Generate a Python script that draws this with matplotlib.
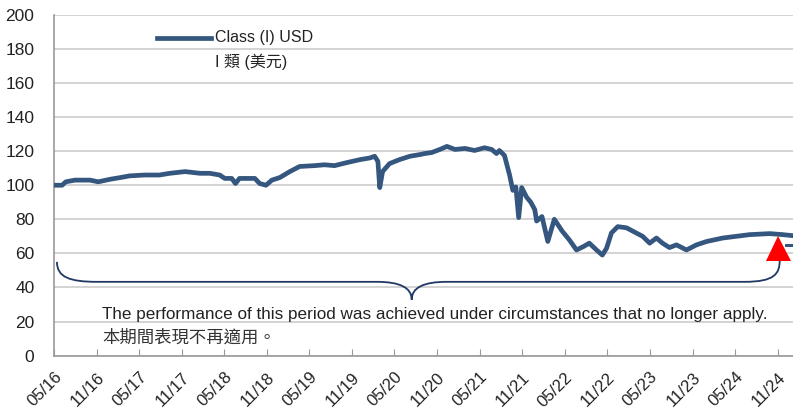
import matplotlib
matplotlib.use("Agg")
import matplotlib.pyplot as plt
import matplotlib.dates as mdates
from matplotlib.path import Path
from matplotlib.patches import PathPatch
import pandas as pd
import numpy as np

dates = ["2016-05-01","2016-06-05","2016-06-21","2016-07-30","2016-10-03","2016-11-07","2016-12-28",
         "2017-02-10","2017-03-22","2017-05-25","2017-07-28","2017-09-10","2017-11-15","2018-01-18",
         "2018-03-01","2018-04-12","2018-05-04","2018-06-03","2018-06-19","2018-07-06","2018-09-10",
         "2018-10-01","2018-10-28","2018-11-22","2018-12-26","2019-02-07","2019-03-21","2019-05-24",
         "2019-07-06","2019-08-18","2019-10-01","2019-12-04","2020-01-16","2020-02-06","2020-02-20",
         "2020-02-28","2020-03-11","2020-04-10","2020-05-22","2020-07-06","2020-08-18","2020-09-08",
         "2020-10-08","2020-11-12","2020-12-12","2021-01-16","2021-02-28","2021-04-10","2021-05-22",
         "2021-06-22","2021-07-13","2021-07-25","2021-08-16","2021-09-07","2021-09-21","2021-10-04",
         "2021-10-16","2021-10-29","2021-11-19","2021-12-07","2021-12-24","2022-01-01","2022-01-24",
         "2022-02-18","2022-03-18","2022-04-21","2022-05-21","2022-06-21","2022-07-21","2022-08-15",
         "2022-09-15","2022-10-10","2022-10-28","2022-11-18","2022-12-15","2023-01-22","2023-03-04",
         "2023-04-01","2023-05-01","2023-05-30","2023-06-25","2023-07-25","2023-08-24","2023-10-06",
         "2023-11-18","2024-01-01","2024-03-09","2024-07-03","2024-09-28","2024-11-22","2025-01-04"]
values = [100, 100, 102, 103, 103, 102, 103.5,
          104.5, 105.5, 106, 106, 107, 108, 107,
          107, 106, 104, 104, 101, 104, 104,
          101, 100, 103, 104.5, 108, 111, 111.5,
          112, 111.5, 113, 115, 116, 117, 114,
          98.6, 108, 112.7, 115, 117, 118, 118.6,
          119.2, 121, 122.8, 121, 121.6, 120.4, 122,
          121, 118.6, 120.4, 117.5, 106, 97, 99,
          81, 98.6, 93, 90, 85.7, 79, 81.6,
          67, 80, 73, 68, 62, 64, 66,
          62, 59, 63, 72, 75.7, 75, 72,
          70, 66, 69, 66, 63.4, 65, 62,
          65, 67, 69, 71, 71.6, 71, 70.4]

tick_dates = pd.date_range("2016-05-01", "2024-11-01", freq="6MS")
tick_labels = [d.strftime("%m/%y") for d in tick_dates]

marker_date = "2024-11-01"
marker_value = 63.3
stub_dates = ["2024-12-04", "2025-01-10"]
stub_values = [65, 65]

line_color = "#34567F"
brace_color = "#1F3864"

fig = plt.figure(figsize=(7.93, 4.13), dpi=100)
ax = fig.add_axes([0.068, 0.139, 0.932, 0.825])

x = pd.to_datetime(dates)
ax.plot(x, values, color=line_color, lw=3.4, solid_joinstyle="round", zorder=3)
ax.plot(pd.to_datetime(stub_dates), stub_values, color=line_color, lw=2.2, zorder=3)
ax.plot([pd.Timestamp(marker_date)], [marker_value], marker="^", ms=18, color="#FF0000",
        markeredgewidth=0, zorder=4, clip_on=False)

ax.set_ylim(0, 200)
ax.set_yticks(np.arange(0, 201, 20))
ax.set_xlim(pd.Timestamp("2016-05-01"), pd.Timestamp("2025-01-05"))
ax.set_xticks(tick_dates)
ax.set_xticklabels(tick_labels, rotation=45, ha="right", va="top", rotation_mode="anchor",
                   fontsize=12, family=["Liberation Sans"], color="#222222")
for lab in ax.get_yticklabels():
    lab.set_fontsize(12.5)
    lab.set_family(["Liberation Sans"])
    lab.set_color("#222222")
ax.tick_params(axis="y", length=0, pad=14)
ax.tick_params(axis="x", direction="in", length=5, color="#999999", pad=10)

ax.grid(axis="y", color="#D0D0D0", lw=1.3)
ax.set_axisbelow(True)
for s in ["top", "right"]:
    ax.spines[s].set_visible(False)
for s in ["left", "bottom"]:
    ax.spines[s].set_color("#999999")
    ax.spines[s].set_linewidth(1.2)

# brace annotation
def d(s):
    return mdates.date2num(pd.Timestamp(s))
verts = [
    (d("2016-05-14"), 55), (d("2016-05-14"), 46), (d("2016-07-08"), 43.3), (d("2016-11-02"), 43.3),
    (d("2020-02-15"), 43.3),
    (d("2020-05-23"), 43.3), (d("2020-07-14"), 40), (d("2020-07-14"), 32.8),
    (d("2020-07-14"), 40), (d("2020-09-04"), 43.3), (d("2020-12-12"), 43.3),
    (d("2024-06-11"), 43.3),
    (d("2024-10-18"), 43.3), (d("2024-11-09"), 48), (d("2024-11-09"), 56),
]
codes = [Path.MOVETO, Path.CURVE4, Path.CURVE4, Path.CURVE4,
         Path.LINETO,
         Path.CURVE4, Path.CURVE4, Path.CURVE4,
         Path.CURVE4, Path.CURVE4, Path.CURVE4,
         Path.LINETO,
         Path.CURVE4, Path.CURVE4, Path.CURVE4]
ax.add_patch(PathPatch(Path(verts, codes), facecolor="none", edgecolor=brace_color, lw=1.3, zorder=3))

ax.text(0.065, 0.108, "The performance of this period was achieved under circumstances that no longer apply.",
        transform=ax.transAxes, fontsize=12.3, family=["Liberation Sans"], color="#222222", va="baseline")
ax.text(0.065, 0.037, "本期間表現不再適用。", transform=ax.transAxes, fontsize=12.5,
        family=["Noto Sans CJK TC"], color="#333333", va="baseline")

# legend
ax.plot([0.139, 0.2125], [0.9325, 0.9325], transform=ax.transAxes, color=line_color, lw=3.4, clip_on=False)
ax.text(0.218, 0.9325, "Class (I) USD", transform=ax.transAxes, fontsize=11.5,
        family=["Liberation Sans", "Noto Sans CJK TC"], color="#222222", va="center")
ax.text(0.218, 0.862, "I 類 (美元)", transform=ax.transAxes, fontsize=11.5,
        family=["Liberation Sans", "Noto Sans CJK TC"], color="#222222", va="center")

fig.savefig("out.png", dpi=100)
